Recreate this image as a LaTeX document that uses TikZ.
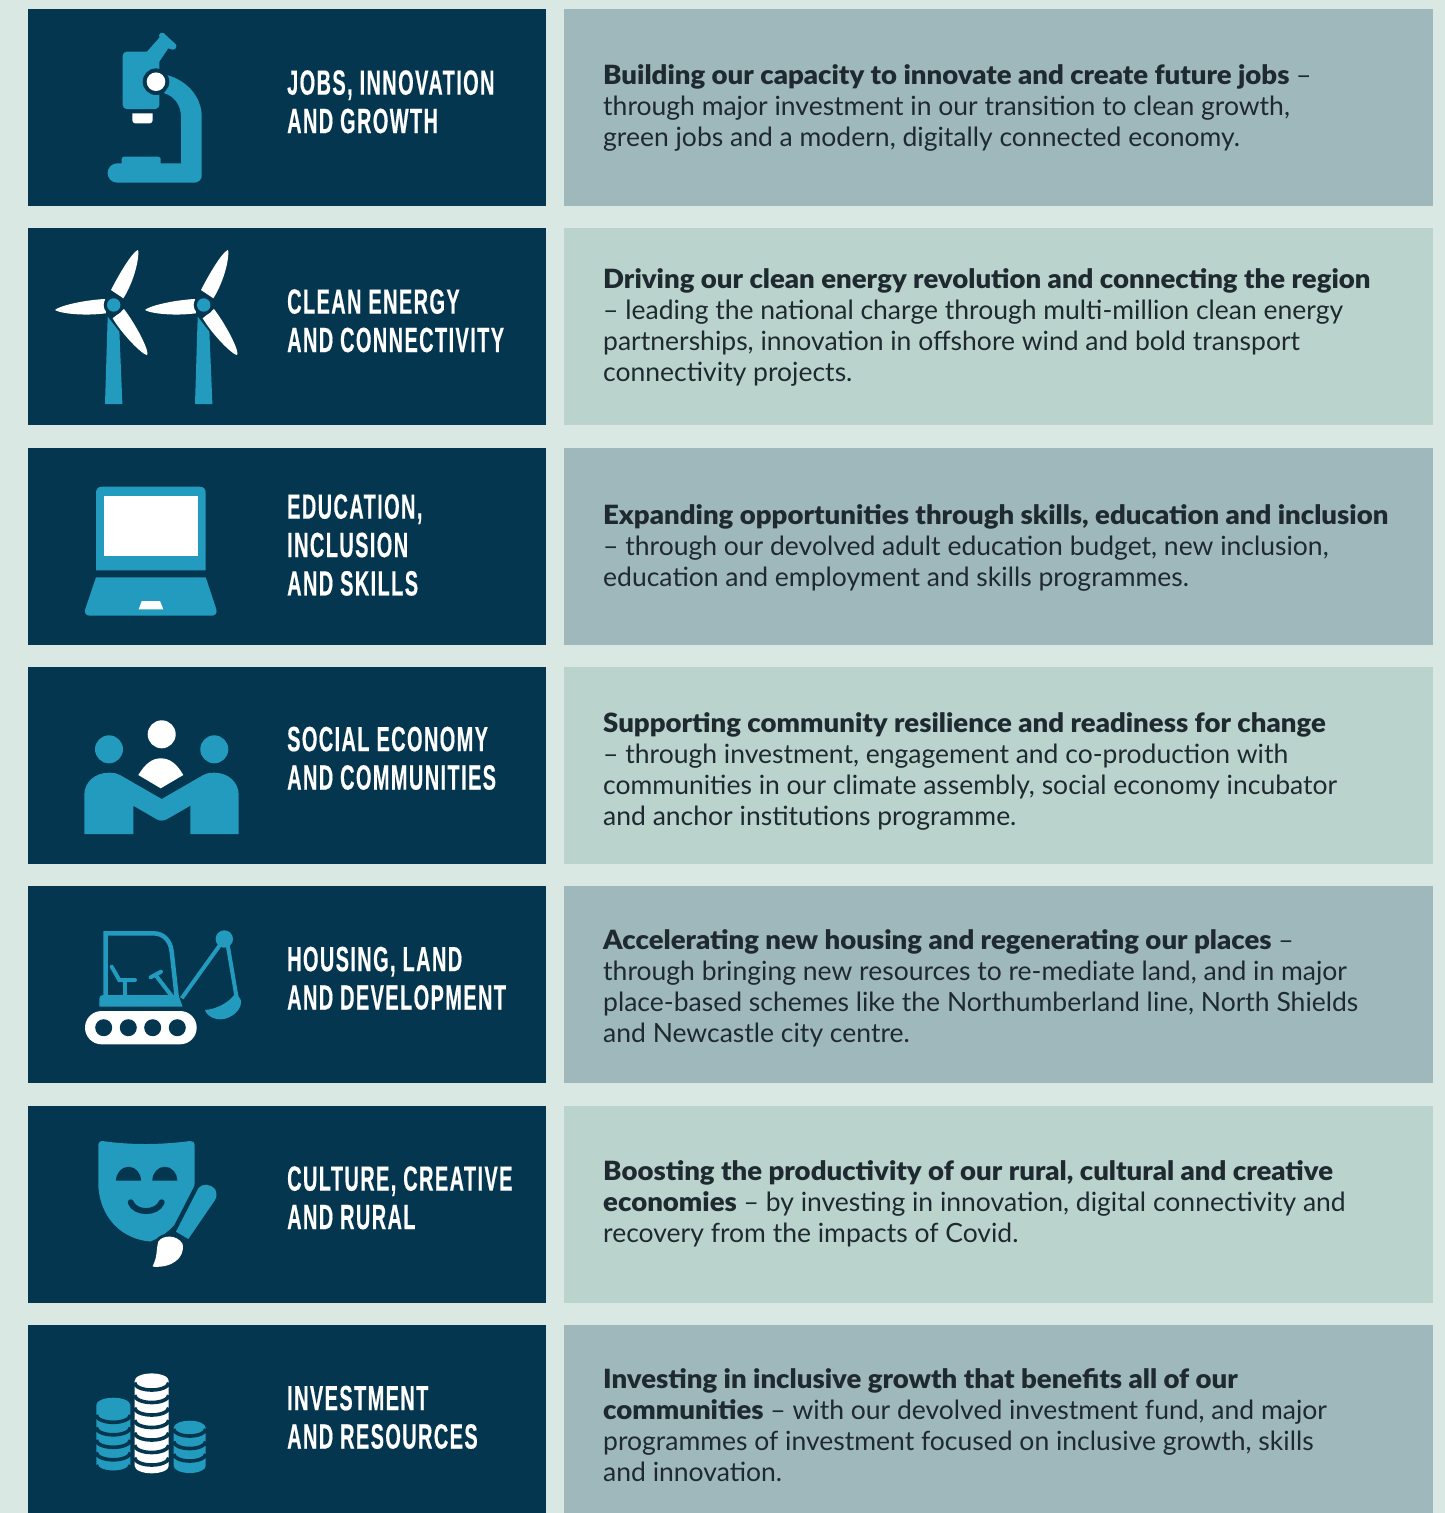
\documentclass[tikz,border=0pt]{standalone}
\usepackage{fontspec}
\setmainfont[BoldFont={Lato Black},BoldFeatures={FakeStretch=1.04}]{Lato}
\newfontfamily\headfont[FakeStretch=0.57,LetterSpace=4,FakeBold=0.35]{Liberation Sans Bold}
\definecolor{pagebg}{HTML}{DAE8E3}
\definecolor{navy}{HTML}{04364F}
\definecolor{teal}{HTML}{229BBF}
\definecolor{panelgrey}{HTML}{9FB8BC}
\definecolor{panellight}{HTML}{BBD3CD}
\definecolor{ink}{HTML}{1F2A30}
\tikzset{
  x=1pt,y=-1pt,
  leftbox/.style={fill=navy},
  greybox/.style={fill=panelgrey},
  lightbox/.style={fill=panellight},
  headtext/.style={anchor=north west,inner sep=0pt,align=left,text=white,
    font=\headfont\fontsize{35}{38.4}\selectfont,execute at begin node={\rule{0pt}{32pt}}},
  bodytext/.style={anchor=north west,inner sep=0pt,align=left,text=ink,
    font=\fontsize{26.5}{31.1}\selectfont,execute at begin node={\rule{0pt}{24pt}}},
  ic/.style={fill=teal},
  wh/.style={fill=white},
  dk/.style={fill=navy},
}
\newcommand{\turbine}[2]{%
  \begin{scope}[shift={(#1,#2)}]
    \fill[ic] (-6,11.7) -- (5.7,26.7) -- (8.7,99) -- (-8.7,99) -- cycle;
    \fill[wh] (-2.7,-15) .. controls (6,-32) and (18,-52) .. (24,-55) .. controls (26,-55) and (24,-30) .. (9.7,-6.7) -- cycle;
    \fill[wh] (-8.7,-6) .. controls (-30,-5) and (-55,1) .. (-58.7,5) .. controls (-52,9) and (-28,11) .. (-7.7,8.3) -- cycle;
    \fill[wh] (-1,13.3) .. controls (9,30) and (28,49) .. (33,50) .. controls (37,50) and (26,25) .. (10.3,4) -- cycle;
    \fill[dk] (0,0) circle[radius=10];
    \fill[ic] (0,0) circle[radius=6.7];
  \end{scope}}
\newcommand{\coinstack}[7]{% cx, top centre y, a, ry, first dark arc centre y, count, colour
  \fill[#7] (#1-#3,#2) arc[start angle=180,end angle=360,x radius=#3,y radius=#4]
     -- (#1+#3,1466) arc[start angle=0,end angle=180,x radius=#3,y radius=#4] -- cycle;
  \foreach \k in {1,...,#6} {
    \draw[navy,line width=3.6] (#1-#3,#5+\k*12.5-12.5) arc[start angle=180,end angle=0,x radius=#3,y radius=#4];
  }}
\begin{document}
\begin{tikzpicture}
\useasboundingbox (0,0) rectangle (1445,1513);
\fill[pagebg] (0,0) rectangle (1445,1513);
% panels
\fill[leftbox] (27.5,9) rectangle (546,206);
\fill[greybox] (563.5,9) rectangle (1433,206);
\fill[leftbox] (27.5,228) rectangle (546,425);
\fill[lightbox] (563.5,228) rectangle (1433,425);
\fill[leftbox] (27.5,448) rectangle (546,645);
\fill[greybox] (563.5,448) rectangle (1433,645);
\fill[leftbox] (27.5,667) rectangle (546,864);
\fill[lightbox] (563.5,667) rectangle (1433,864);
\fill[leftbox] (27.5,886) rectangle (546,1083);
\fill[greybox] (563.5,886) rectangle (1433,1083);
\fill[leftbox] (27.5,1106) rectangle (546,1303);
\fill[lightbox] (563.5,1106) rectangle (1433,1303);
\fill[leftbox] (27.5,1325) rectangle (546,1513);
\fill[greybox] (563.5,1325) rectangle (1433,1513);
% headings
\node[headtext] (h1) at (287,70) {JOBS, INNOVATION\\AND GROWTH};
\node[headtext] (h2) at (287,289) {CLEAN ENERGY\\AND CONNECTIVITY};
\node[headtext] (h3) at (287,494) {EDUCATION,\\INCLUSION\\AND SKILLS};
\node[headtext] (h4) at (287,726.5) {SOCIAL ECONOMY\\AND COMMUNITIES};
\node[headtext] (h5) at (287,946.5) {HOUSING, LAND\\AND DEVELOPMENT};
\node[headtext] (h6) at (287,1166) {CULTURE, CREATIVE\\AND RURAL};
\node[headtext] (h7) at (287,1385.5) {INVESTMENT\\AND RESOURCES};
% body text
\node[bodytext] (b1) at (603,64) {\textbf{Building our capacity to innovate and create future jobs} –\\through major investment in our transition to clean growth,\\green jobs and a modern, digitally connected economy.};
\node[bodytext] (b2) at (603,268) {\textbf{Driving our clean energy revolution and connecting the region}\\– leading the national charge through multi-million clean energy\\partnerships, innovation in offshore wind and bold transport\\connectivity projects.};
\node[bodytext] (b3) at (603,504) {\textbf{Expanding opportunities through skills, education and inclusion}\\– through our devolved adult education budget, new inclusion,\\education and employment and skills programmes.};
\node[bodytext] (b4) at (603,712) {\textbf{Supporting community resilience and readiness for change}\\– through investment, engagement and co-production with\\communities in our climate assembly, social economy incubator\\and anchor institutions programme.};
\node[bodytext] (b5) at (603,929) {\textbf{Accelerating new housing and regenerating our places} –\\through bringing new resources to re-mediate land, and in major\\place-based schemes like the Northumberland line, North Shields\\and Newcastle city centre.};
\node[bodytext] (b6) at (603,1160) {\textbf{Boosting the productivity of our rural, cultural and creative}\\\textbf{economies} – by investing in innovation, digital connectivity and\\recovery from the impacts of Covid.};
\node[bodytext] (b7) at (603,1368) {\textbf{Investing in inclusive growth that benefits all of our}\\\textbf{communities} – with our devolved investment fund, and major\\programmes of investment focused on inclusive growth, skills\\and innovation.};
% microscope
\fill[ic] (166.7,75) .. controls (186,80) and (201.7,96) .. (201.7,116.7) -- (201.7,176) .. controls (201.7,180) and (198,182.7) .. (194,182.7)
  -- (117.3,182.7) arc[start angle=90,end angle=270,radius=9.7] -- (121.7,163.3) -- (121.7,159) .. controls (121.7,157.5) and (123,156.7) .. (124,156.7)
  -- (158,156.7) .. controls (160,156.7) and (160.7,158) .. (160.7,159) -- (160.7,163.3) -- (181,163.3) -- (181,116.7) .. controls (181,105) and (174,96) .. (164.3,93.3) -- cycle;
\fill[ic] (146.7,52) -- (159.5,37.5) .. controls (158,34) and (161,32) .. (163.5,33) -- (176,44.5) .. controls (177.5,47) and (175,50.5) .. (172,49.5) -- (168.3,48.3) -- (159.3,61.7) -- cycle;
\fill[ic,rounded corners=4] (122.7,51.7) rectangle (159.3,109);
\fill[dk] (156,81.7) circle[radius=13.3];
\fill[wh] (156,81.7) circle[radius=9.3];
\fill[wh] (132.3,113.3) -- (152.7,113.3) -- (152.7,120) .. controls (152.7,122) and (151.5,123.3) .. (150,123.3) -- (135,123.3) .. controls (133.5,123.3) and (132.3,122) .. (132.3,120) -- cycle;
% turbines
\turbine{113.7}{305}
\turbine{203.7}{305}
% laptop
\fill[ic] (96,570.3) -- (96,493) .. controls (96,489) and (98,486.7) .. (102,486.7) -- (199.7,486.7) .. controls (203.7,486.7) and (205.7,489) .. (205.7,493) -- (205.7,570.3) -- cycle;
\fill[wh] (104.3,496) rectangle (197.7,556);
\fill[ic] (96,577.3) -- (205.7,577.3) -- (216.3,609) .. controls (217.5,613) and (215,615.7) .. (212,615.7) -- (90,615.7) .. controls (86,615.7) and (84,613) .. (85.3,609) -- cycle;
\fill[wh] (141.7,601) -- (160,601) -- (163.3,609.3) -- (138.7,609.3) -- cycle;
% people
\fill[wh] (161.7,734.3) circle[radius=14];
\fill[ic] (109,749.3) circle[radius=14];
\fill[ic] (214.3,749.3) circle[radius=14];
\fill[wh] (138.3,775) .. controls (145,764) and (152,758.3) .. (160.7,758.3) .. controls (170,758.3) and (177,764) .. (183.3,775) -- (160.7,788.3) -- cycle;
\fill[ic] (84.3,834) -- (84.3,795) .. controls (84.3,782) and (95,772.7) .. (109,772.7) .. controls (114,772.7) and (117,773.3) .. (120,775) -- (161.7,799) -- (203.3,775) .. controls (206,773.3) and (209,772.7) .. (214.3,772.7) .. controls (228,772.7) and (238.7,782) .. (238.7,795) -- (238.7,834) -- (190.3,834) -- (190.3,805.7) -- (166.7,819.3) .. controls (163,821) and (160,821) .. (156.7,819.3) -- (133.3,805.7) -- (133.3,834) -- cycle;
% excavator
\fill[wh,rounded corners=16.6] (85,1011) rectangle (196.7,1044.3);
\foreach \hx in {103.7,128.3,152.7,177.3} \fill[dk] (\hx,1027.7) circle[radius=8.5];
\fill[ic] (99.3,1006.7) -- (99.3,999) .. controls (99.3,996.5) and (101,995) .. (103,995) -- (178.3,995) -- (182.7,1006.7) -- cycle;
\draw[teal,line width=4.5] (105.7,997) -- (105.7,933.3) -- (153.3,933.3) .. controls (164,933.3) and (170.5,941) .. (171.7,951.7) -- (176.7,997);
\draw[teal,line width=4,line cap=round] (111.7,966.7) -- (119.3,980) -- (135,980);
\draw[teal,line width=4] (125,980) -- (125,996);
\draw[teal,line width=4,line cap=round] (150.7,977.3) -- (161,971.7);
\draw[teal,line width=4] (155,974.3) -- (171.7,996);
\draw[teal,line width=4] (181.7,998.3) -- (224.3,939);
\draw[teal,line width=4] (226.7,939) -- (236.7,998);
\fill[ic] (224.3,939) circle[radius=8.7];
\fill[ic] (205,1010) .. controls (217,1009) and (228,1003) .. (235,994) .. controls (240,997) and (241.5,1000) .. (241,1003) .. controls (240,1013) and (227,1021) .. (216.7,1019) .. controls (211,1018) and (206,1014) .. (205,1010) -- cycle;
% mask and brush
\fill[ic] (98.3,1145) .. controls (98.3,1142) and (100,1141) .. (102,1141) .. controls (130,1145) and (160,1145) .. (190,1141) .. controls (193,1141) and (194.7,1142) .. (194.7,1145) -- (194.7,1183) .. controls (192,1210) and (170,1235) .. (150,1241.5) .. controls (115,1238) and (98.3,1210) .. (98.3,1183) -- cycle;
\fill[dk] (116,1180.7) arc[start angle=180,end angle=0,x radius=12.5,y radius=-14] -- cycle;
\fill[dk] (152.3,1180.7) arc[start angle=180,end angle=0,x radius=12.5,y radius=-14] -- cycle;
\draw[navy,line width=6,line cap=round] (130.7,1202.3) .. controls (135,1214) and (157,1214) .. (161.7,1202.3);
\draw[navy,line width=9,fill=navy,line join=round] (198.3,1188.3) -- (176,1231.7) -- (188.3,1239) -- (215,1200) -- cycle;
\draw[navy,fill=navy,line width=6,line join=round] (152.7,1266) .. controls (158,1256) and (156,1248) .. (158.3,1241.7) .. controls (162,1235) and (177,1234) .. (182.7,1244) .. controls (185,1258) and (172,1268) .. (153.3,1266.7) -- cycle;
\fill[ic] (198.3,1188.3) .. controls (202,1183) and (211,1184) .. (215,1189) .. controls (217,1193) and (217,1197) .. (215,1200) -- (188.3,1239) -- (176,1231.7) -- cycle;
\fill[wh] (152.7,1266) .. controls (158,1256) and (156,1248) .. (158.3,1241.7) .. controls (162,1235) and (177,1234) .. (182.7,1244) .. controls (185,1258) and (172,1268) .. (153.3,1266.7) -- cycle;
% coins
\coinstack{113.3}{1405}{17}{7.3}{1415}{5}{teal}
\coinstack{151.7}{1380.7}{17}{7.3}{1382.7}{7}{white}
\coinstack{189.7}{1427.7}{16}{7}{1429}{3}{teal}
\end{tikzpicture}
\end{document}
